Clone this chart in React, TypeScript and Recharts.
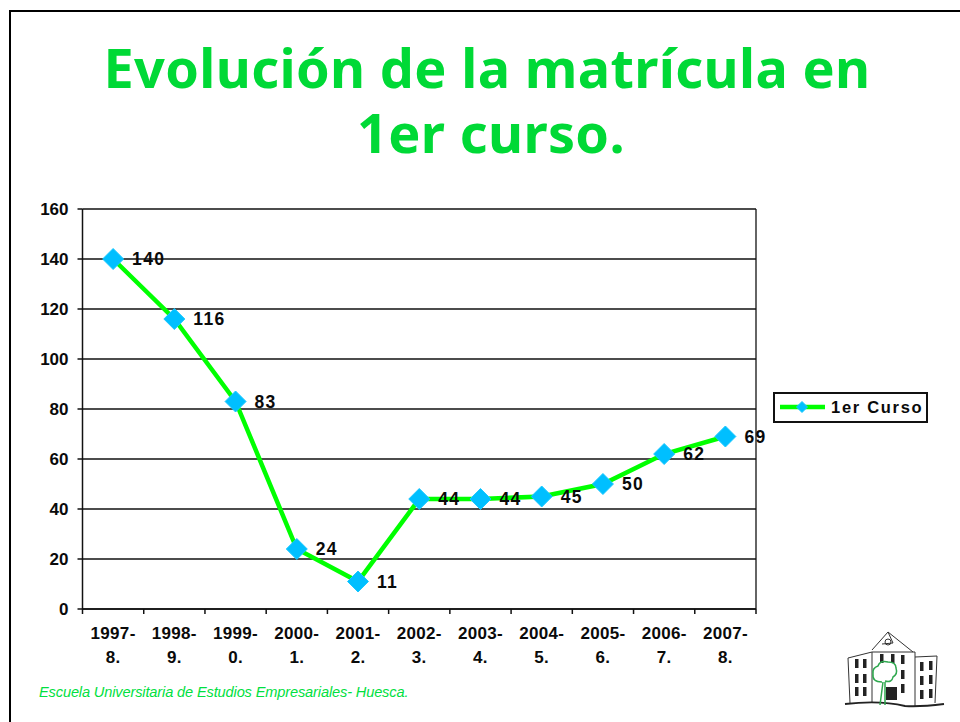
import React from "react";
import { LineChart, Line, XAxis, YAxis, CartesianGrid, LabelList, Legend } from "recharts";

const categories = ["1997-8.", "1998-9.", "1999-0.", "2000-1.", "2001-2.", "2002-3.", "2003-4.", "2004-5.", "2005-6.", "2006-7.", "2007-8."];
const firstYear = [140, 116, 83, 24, 11, 44, 44, 45, 50, 62, 69];
const yTicks = [0, 20, 40, 60, 80, 100, 120, 140, 160];
const titleLines = ["Evolución de la matrícula en", "1er curso."];
const seriesName = "1er Curso";
const footer = "Escuela Universitaria de Estudios Empresariales- Huesca.";
const rows = categories.map((c, i) => ({ course: c, value: firstYear[i] }));

const W = 960, H = 722;
const PLOT = { left: 82.5, right: 756, top: 209, bottom: 609 };
const LEGEND_W = 156;
const BAND = (PLOT.right - PLOT.left) / categories.length;
const FONT = "'Liberation Sans', Arial, sans-serif";
const TXT = { fontFamily: FONT, fontWeight: 700, fontSize: 17, fill: "#0a0a0a" };

const Diamond = ({ cx, cy, size }: any) => (
  <polygon points={`${cx},${cy - size} ${cx + size},${cy} ${cx},${cy + size} ${cx - size},${cy}`} fill="#00BFFF" stroke="#19C8FF" strokeWidth={1} />
);

const XTick = ({ x, y, payload, index }: any) => {
  const s = String(payload.value);
  const cut = s.indexOf("-") + 1;
  const left = x - BAND / 2;
  return (
    <g>
      <line x1={left} x2={left} y1={PLOT.bottom} y2={PLOT.bottom + 5} stroke="#111" strokeWidth={1.5} />
      {index === categories.length - 1 && (
        <line x1={x + BAND / 2} x2={x + BAND / 2} y1={PLOT.bottom} y2={PLOT.bottom + 5} stroke="#111" strokeWidth={1.5} />
      )}
      <text x={x} y={PLOT.bottom + 30} textAnchor="middle" {...TXT} letterSpacing={0.3}>{s.slice(0, cut)}</text>
      <text x={x} y={PLOT.bottom + 54} textAnchor="middle" {...TXT} letterSpacing={0.3}>{s.slice(cut)}</text>
    </g>
  );
};

const LegendBox = ({ payload }: any) => (
  <svg width={LEGEND_W} height={32} style={{ display: "block" }}>
    <rect x={1} y={1} width={153} height={29} fill="#fff" stroke="#111" strokeWidth={2} />
    <line x1={7} x2={52} y1={15} y2={15} stroke="#00FF00" strokeWidth={4.5} />
    <Diamond cx={29} cy={15} size={5.5} />
    <text x={58} y={21} fontFamily={FONT} fontWeight={700} fontSize={16.5} fill="#0a0a0a" letterSpacing={1.7}>
      {payload?.[0]?.value}
    </text>
  </svg>
);

const Logo = () => (
  <svg width={140} height={112} style={{ position: "absolute", left: 820, top: 610 }} fill="none" stroke="#333" strokeWidth={1}>
    <path d="M30 93 L28 48 L52 42 L52 93 M52 40 L68 22 L93 42 M52 42 L95 42 L95 96 M95 47 L117 46 L115 93 M68 22 L73 33 L62 34" />
    <path d="M25 94 Q60 90 85 96 Q100 97 124 94" stroke="#222" strokeWidth={1.8} />
    <circle cx={68} cy={32} r={3} />
    {[[35, 49], [43, 49], [35, 64], [43, 64], [35, 77], [43, 77], [60, 44], [71, 44], [81, 45], [81, 60], [81, 74], [100, 52], [109, 51], [100, 66], [109, 65], [100, 80], [109, 79]].map(([x, y], i) => (
      <rect key={i} x={x} y={y} width={3.5} height={9} fill="#222" stroke="none" />
    ))}
    <rect x={66} y={77} width={11} height={13} fill="#222" stroke="none" />
    <path d="M60 95 L63 72 M65 95 L65 72 M62 72 Q52 72 53 64 Q52 58 58 56 Q60 50 68 52 Q76 52 76 58 Q78 64 73 67 Q72 73 65 71" stroke="#2FA84F" strokeWidth={1.5} />
  </svg>
);

export default function App() {
  return (
    <div style={{ position: "absolute", left: 0, top: 0, width: W, height: H, background: "#fff", overflow: "hidden" }}>
      <div style={{ position: "absolute", left: 9, top: 10, width: W, height: H, borderLeft: "2px solid #000", borderTop: "2px solid #000" }} />
      {titleLines.map((t, i) => (
        <div key={i} style={{ position: "absolute", left: i * 4, width: 974, top: 37 + i * 65, height: 60, lineHeight: "60px", textAlign: "center", fontFamily: "'Noto Sans', sans-serif", fontWeight: 700, fontSize: 54, letterSpacing: 0.35, color: "#00D936", whiteSpace: "nowrap" }}>{t}</div>
      ))}
      <div style={{ position: "absolute", inset: 0 }}>
        <LineChart width={W} height={H} data={rows} margin={{ top: PLOT.top, right: W - PLOT.right - LEGEND_W, bottom: 0, left: 40 }}>
          <CartesianGrid stroke="#111" strokeWidth={1.3} verticalPoints={[PLOT.right]} />
          <XAxis dataKey="course" interval={0} height={H - PLOT.bottom} padding={{ left: BAND / 2, right: BAND / 2 }} axisLine={{ stroke: "#111", strokeWidth: 1.5 }} tickLine={false} tick={<XTick />} />
          <YAxis domain={[0, 160]} ticks={yTicks} width={PLOT.left - 40} interval={0} axisLine={{ stroke: "#111", strokeWidth: 1.5 }} tickLine={{ stroke: "#111", strokeWidth: 1.5 }} tickSize={5} tickMargin={9} tick={{ ...TXT }} />
          <Legend verticalAlign="top" align="right" layout="vertical" content={<LegendBox />} wrapperStyle={{ position: "absolute", left: 773, top: 392, width: LEGEND_W, height: 32 }} />
          <Line type="linear" dataKey="value" name={seriesName} stroke="#00FF00" strokeWidth={4.5} dot={<Diamond size={10.5} />} activeDot={false} isAnimationActive={false}>
            <LabelList dataKey="value" position="right" offset={19} style={{ ...TXT, fontSize: 17.5, letterSpacing: 1.3 }} />
          </Line>
        </LineChart>
      </div>
      <div style={{ position: "absolute", left: 39, top: 683, fontFamily: FONT, fontStyle: "italic", fontSize: 14.6, lineHeight: "18px", letterSpacing: -0.14, color: "#00E040", whiteSpace: "nowrap" }}>{footer}</div>
      <Logo />
    </div>
  );
}
